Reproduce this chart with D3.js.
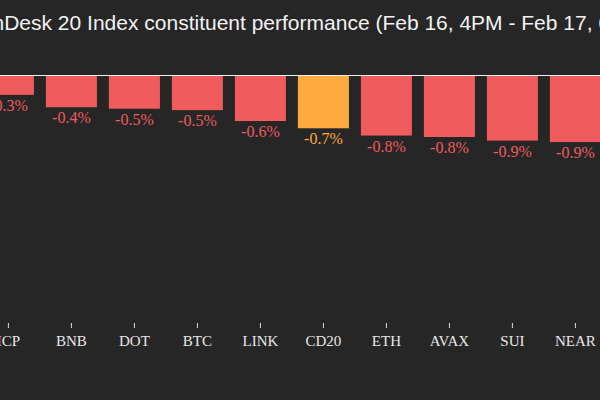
<!DOCTYPE html>
<html>
<head>
<meta charset="utf-8">
<script src="https://cdn.jsdelivr.net/npm/d3@7"></script>
<style>
html,body{margin:0;padding:0;background:#262626;overflow:hidden;}
</style>
</head>
<body>
<svg id="chart" width="600" height="400"></svg>
<script>
const categories = ["ICP","BNB","DOT","BTC","LINK","CD20","ETH","AVAX","SUI","NEAR"];
const values = [-0.26, -0.43, -0.45, -0.47, -0.62, -0.72, -0.82, -0.84, -0.89, -0.91];
const labels = ["-0.3%","-0.4%","-0.5%","-0.5%","-0.6%","-0.7%","-0.8%","-0.8%","-0.9%","-0.9%"];
const highlight = "CD20";
const titleText = "CoinDesk 20 Index constituent performance (Feb 16, 4PM - Feb 17, 6AM)";

const svg = d3.select("#chart");
svg.append("rect").attr("width",600).attr("height",400).attr("fill","#262626");

const x = d3.scaleBand().domain(categories).range([-23.1, 606.9]).paddingInner(0.19).paddingOuter(0.095);
const y = d3.scaleLinear().domain([-3.36, 0]).range([320, 76]);

const red = "#f05b5e", orange = "#fdaa3e";

svg.append("text").attr("x",-39).attr("y",30)
  .attr("font-family","'Liberation Sans', Arial, sans-serif").attr("font-size",21)
  .attr("fill","#f2f2f2").text(titleText);

svg.selectAll("rect.bar").data(categories).enter().append("rect")
  .attr("class","bar")
  .attr("x", d => x(d)).attr("width", x.bandwidth())
  .attr("y", y(0)).attr("height", (d,i) => y(values[i]) - y(0))
  .attr("fill", d => d === highlight ? orange : red);

svg.selectAll("text.val").data(categories).enter().append("text")
  .attr("class","val")
  .attr("x", d => x(d) + x.bandwidth()/2)
  .attr("y", (d,i) => y(values[i]) + 16)
  .attr("text-anchor","middle")
  .attr("font-family","'Liberation Serif', Georgia, serif").attr("font-size",16)
  .attr("fill", d => d === highlight ? orange : red)
  .text((d,i) => labels[i]);

svg.append("line").attr("x1",0).attr("x2",600).attr("y1",y(0)-0.5).attr("y2",y(0)-0.5)
  .attr("stroke","#f0f0f0").attr("stroke-width",1);

const axis = svg.append("g").attr("transform","translate(0,323)")
  .call(d3.axisBottom(x).tickSize(5).tickPadding(7));
axis.select(".domain").remove();
axis.selectAll(".tick line").attr("stroke","#dddddd");
axis.selectAll(".tick text").attr("fill","#e8e8e8")
  .attr("font-family","'Liberation Serif', Georgia, serif").attr("font-size",15);
</script>
</body>
</html>
